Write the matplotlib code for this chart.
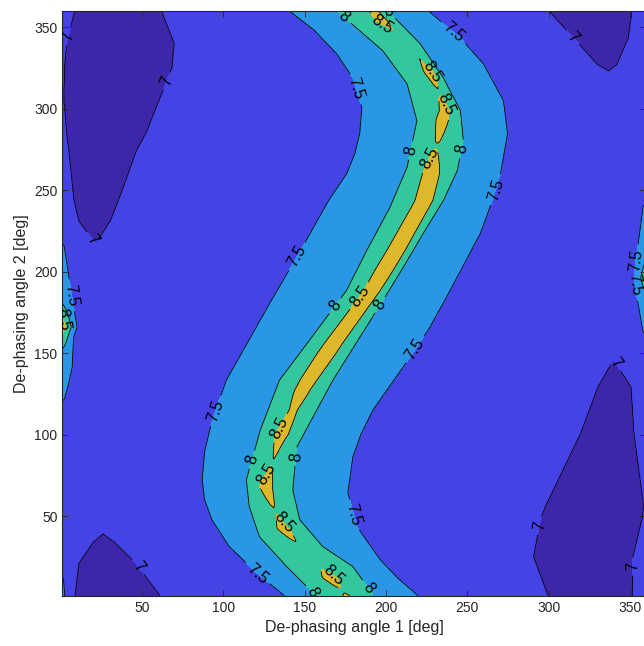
import numpy as np
import matplotlib
matplotlib.use('Agg')
import matplotlib.pyplot as plt

plt.rcParams['font.family'] = ['Liberation Sans', 'DejaVu Sans']

# ---------------- data ----------------
x_ticks = [50, 100, 150, 200, 250, 300, 350]
y_ticks = [50, 100, 150, 200, 250, 300, 350]
levels = [7.0, 7.5, 8.0, 8.5]
base_level = 7.25

# main S-shaped ridge: angle-1 positions of each contour, read per angle 2
l75_y = [0, 15.3, 31.2, 47.7, 60, 72.2, 90, 108.9, 133.4, 151.8, 182.4, 208.7, 243.6, 260.1, 272, 284.6, 300.5, 318.8, 333.5, 348, 360]
l75_x = [139, 120.4, 103.7, 93.0, 88.5, 87.0, 88.6, 93.2, 101.9, 112.3, 129.6, 145.1, 164.8, 175.9, 180.8, 183.9, 185.2, 179.6, 169.8, 156, 140.5]

r75_y = [0, 12, 23.3, 43.5, 64.3, 86.3, 100, 115.1, 147.5, 165, 184.5, 223.4, 243.6, 260.1, 284.6, 304.8, 327.4, 343.3, 360]
r75_x = [221, 207, 196.3, 182.1, 176.5, 179.6, 184.5, 192.0, 214.8, 226.5, 237.3, 258.0, 265.4, 270.4, 274.7, 272.2, 259.9, 245.7, 225.9]

l8_y = [3.1, 19.0, 37.3, 55.7, 72.2, 102.8, 133.4, 157.9, 188.5, 213.0, 239.3, 263.8, 292.5, 315.2, 335.4, 359.9]
l8_x = [154.9, 138.9, 122.2, 116.0, 114.2, 122.8, 134.6, 153.1, 175.9, 188.3, 202.5, 213.0, 219.1, 213.0, 198.1, 169.8]

r8_y = [1.8, 19.0, 31.2, 47.7, 66.1, 92.4, 133.4, 157.9, 182.4, 202.6, 223.4, 243.6, 261.9, 280.3, 298.7, 318.8, 339.7, 359.9]
r8_x = [192.0, 179.6, 161.1, 146.9, 142.6, 145.1, 167.3, 182.7, 198.1, 210.5, 222.8, 235.2, 243.8, 247.5, 245.7, 235.2, 221.0, 201.2]

crest_y = [1.2, 12.2, 42.8, 67.9, 96.7, 127.3, 156.1, 188.5, 213, 243.6, 274.2, 298.7, 321.9, 356.8, 360]
crest_x = [175.9, 165.4, 136.4, 125.3, 134.6, 148.8, 168.5, 193.2, 208.6, 225.3, 230.2, 237, 228.4, 196.3, 194]

peak_y = [0, 4.5, 7, 12, 17, 20, 26, 32, 36, 42, 50, 53, 57, 68, 80, 83, 86, 100, 115, 125, 150,
          180, 200, 230, 260, 274, 277, 280, 293, 306, 310, 314, 322, 329, 335, 345, 349, 354, 360]
peak_v = [8.6, 8.45, 8.55, 8.65, 8.52, 8.4, 8.45, 8.45, 8.55, 8.65, 8.52, 8.45, 8.55, 8.7, 8.52, 8.48,
          8.52, 8.7, 8.6, 8.7, 8.8, 8.8, 8.85, 8.8, 8.75, 8.55, 8.45, 8.55, 8.7, 8.55, 8.45, 8.55,
          8.65, 8.52, 8.45, 8.45, 8.52, 8.65, 8.6]

# low (< 7) region on the left, wraps over the top edge (angle 2 > 360 = bottom)
lowA_y = [217, 231, 244, 256, 274, 285, 305, 325, 340, 360, 381, 394, 399]
lowA_l = [21.4, 11.1, 8.0, 6.8, 4.9, 3.5, 1.9, 2.2, 3.5, 8.5, 11.1, 20, 26]
lowA_r = [21.4, 30.5, 35.6, 40.1, 46.5, 52.5, 60.5, 68.5, 69.8, 62, 46.1, 33, 26]
lowA_d = [0, 0.1, 0.15, 0.15, 0.15, 0.15, 0.15, 0.15, 0.15, 0.15, 0.12, 0.05, 0]

# low (< 7) region on the right, wraps under the bottom edge (negative = top)
lowB_y = [-37, -33, -17, 0, 25, 48, 56, 101, 129, 146]
lowB_l = [337, 330, 315.6, 300, 290.7, 295, 298, 319.8, 330.2, 340]
lowB_r = [337, 342, 349, 351.5, 352, 357.5, 358.6, 352.5, 350.8, 340]
lowB_d = [0, 0.05, 0.1, 0.15, 0.15, 0.15, 0.15, 0.15, 0.1, 0]

# small crest touching the left edge (peak at edge, half-width of 7.5 level)
edgeL_y = [0, 10, 19, 25, 112, 119, 130, 141, 152, 160, 166, 172, 180, 190, 200, 210, 219, 226, 360]
edgeL_p = [7.85, 7.7, 7.5, 7.25, 7.25, 7.5, 7.7, 7.85, 8.05, 8.6, 8.9, 8.6, 8.1, 7.95, 7.8, 7.65, 7.5, 7.25, 7.25]
edgeL_w = [4, 3, 1, 1, 1, 1.5, 4.5, 7, 7.5, 8, 10, 9, 7.5, 6, 4.5, 3, 1.5, 1, 1]

# small crest touching the right edge
edgeR_y = [0, 152, 160, 175, 186, 196, 206, 220, 235, 244, 250, 360]
edgeR_p = [7.25, 7.25, 7.5, 7.7, 8.0, 8.4, 8.05, 7.8, 7.6, 7.5, 7.25, 7.25]
edgeR_w = [1, 1, 1.5, 4, 6, 7.5, 6.5, 4.5, 2.5, 1.5, 1, 1]

level_colors = ['#3E26A8', '#4643E6', '#2A97E6', '#33C7A0', '#DCB82A']

# ---------------- build the field ----------------
ang1 = np.arange(1, 360.01, 0.5)
ang2 = np.arange(1, 360.01, 0.5)
Z = np.full((ang2.size, ang1.size), base_level)


def low_row(yq, by, bl, br, bd):
    if yq < by[0] or yq > by[-1]:
        return np.zeros_like(ang1)
    L = np.interp(yq, by, bl)
    R = max(np.interp(yq, by, br), L + 2e-3)
    d = np.interp(yq, by, bd)
    xp = [L - 12, L, 0.5 * (L + R), R, R + 12]
    fp = [0.0, -0.25, -0.25 - d, -0.25, 0.0]
    return np.interp(ang1, xp, fp, left=0.0, right=0.0)


def edge_row(yq, ey, ep, ew, dist):
    p = np.interp(yq, ey, ep)
    w = np.interp(yq, ey, ew)
    k = max(p - 7.5, 0.05) / w
    return np.maximum(p - base_level - k * dist, 0.0)


for i, yv in enumerate(ang2):
    a = np.interp(yv, l75_y, l75_x)
    b = np.interp(yv, l8_y, l8_x)
    c = np.interp(yv, crest_y, crest_x)
    d = np.interp(yv, r8_y, r8_x)
    e = np.interp(yv, r75_y, r75_x)
    pk = np.interp(yv, peak_y, peak_v)
    row = np.interp(ang1, [a - 30, a, b, c, d, e, e + 30],
                    [base_level, 7.5, 8.0, pk, 8.0, 7.5, base_level],
                    left=base_level, right=base_level)
    row = row + low_row(yv, lowA_y, lowA_l, lowA_r, lowA_d)
    row = row + low_row(yv + 360, lowA_y, lowA_l, lowA_r, lowA_d)
    row = row + low_row(yv, lowB_y, lowB_l, lowB_r, lowB_d)
    row = row + low_row(yv - 360, lowB_y, lowB_l, lowB_r, lowB_d)
    row = row + edge_row(yv, edgeL_y, edgeL_p, edgeL_w, ang1 - 0.0)
    row = row + edge_row(yv, edgeR_y, edgeR_p, edgeR_w, 360.0 - ang1)
    Z[i] = row

# ---------------- plot ----------------
fig = plt.figure(figsize=(6.44, 6.46), dpi=100)
ax = fig.add_axes([0.0969, 0.0776, 0.9064, 0.9058])

fill_levels = [min(Z.min(), 6.0) - 0.1] + levels + [max(Z.max(), 9.0) + 0.1]
ax.contourf(ang1, ang2, Z, levels=fill_levels, colors=level_colors)
cs = ax.contour(ang1, ang2, Z, levels=levels, colors='k', linewidths=0.6)

label_pos = [(3, 345), (65, 317), (19, 219), (4, 185), (3, 171), (48, 19), (119, 12), (94, 115),
             (144, 210), (181, 312), (173, 355), (200, 358), (196, 349), (241, 346), (228, 322),
             (236, 302), (217, 274), (228, 269), (247, 275), (268, 250), (164, 182), (181, 187),
             (197, 179), (218, 152), (131, 106), (115, 85), (146, 86), (124, 77), (136, 45),
             (167, 12), (161, 4), (188, 5), (178, 50), (295, 44), (355, 19), (341, 144),
             (314, 343), (352, 207), (354, 192)]
ax.clabel(cs, manual=label_pos, inline=True, fontsize=11.5, fmt=lambda v: f'{v:g}', colors='k')

ax.set_xlim(1, 360)
ax.set_ylim(1, 360)
ax.set_xticks(x_ticks)
ax.set_yticks(y_ticks)
ax.tick_params(direction='in', top=True, right=True, length=4, width=0.6,
               colors='#262626', labelsize=10)
for s in ax.spines.values():
    s.set_linewidth(0.8)
    s.set_color('#262626')
ax.set_xlabel('De-phasing angle 1 [deg]', fontsize=11.5, color='#262626', labelpad=4)
ax.set_ylabel('De-phasing angle 2 [deg]', fontsize=11.5, color='#262626', labelpad=4)

fig.savefig('out.png', dpi=100)
